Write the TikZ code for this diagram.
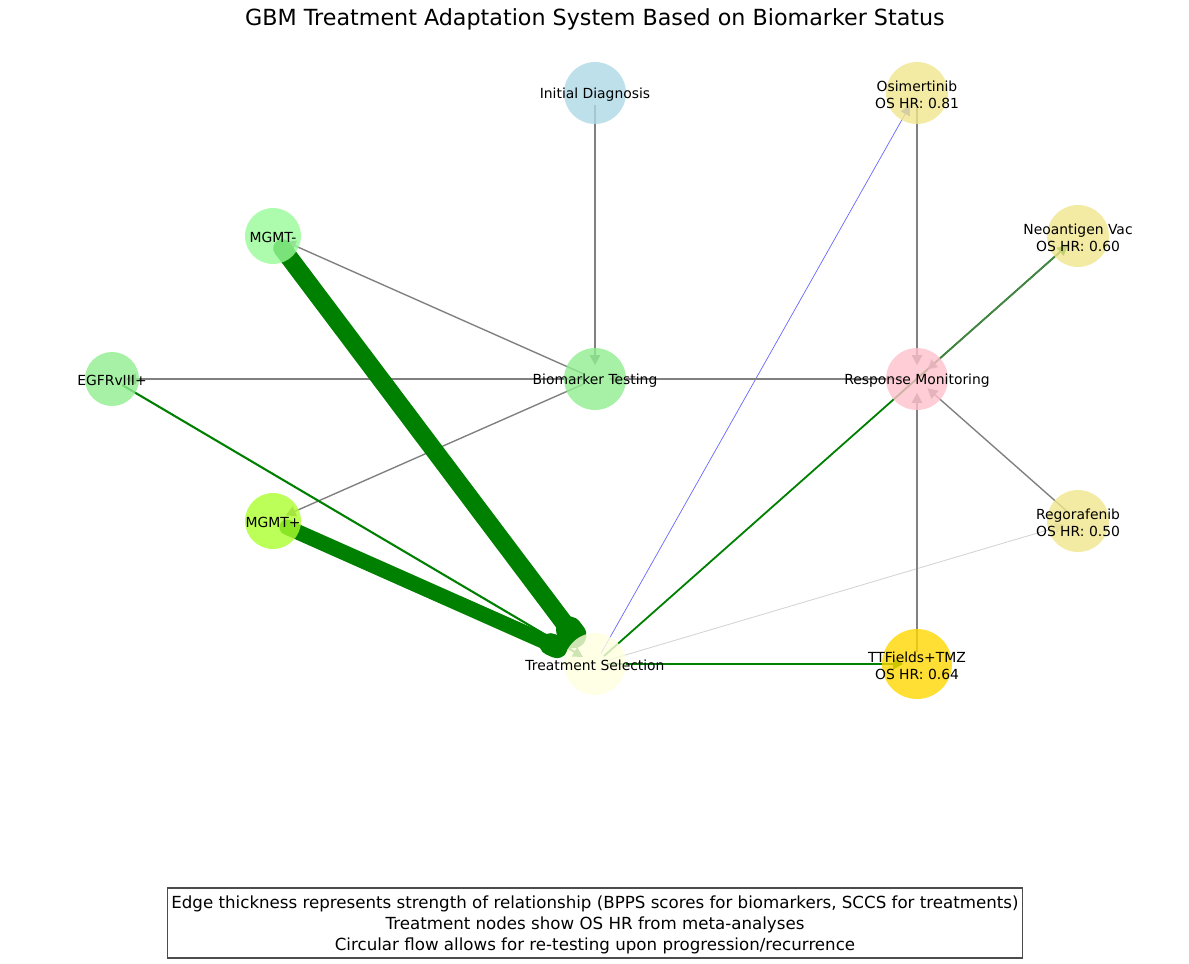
\documentclass[tikz,border=0pt]{standalone}
\usepackage{fontspec}
\setmainfont{DejaVu Sans}
\usetikzlibrary{arrows.meta,calc,backgrounds}
\definecolor{egreen}{HTML}{008000}
\definecolor{egray}{HTML}{808080}
\definecolor{elgray}{HTML}{D3D3D3}
\definecolor{cblue}{HTML}{ADD8E6}
\definecolor{clgreen}{HTML}{90EE90}
\definecolor{cpgreen}{HTML}{98FB98}
\definecolor{cgy}{HTML}{ADFF2F}
\definecolor{clyellow}{HTML}{FFFFE0}
\definecolor{cpink}{HTML}{FFC0CB}
\definecolor{ckhaki}{HTML}{F0E68C}
\definecolor{cgold}{HTML}{FFD700}
\begin{document}
\begin{tikzpicture}[x=0.72pt,y=-0.72pt,
  dot/.style={circle, draw=none, fill opacity=0.8, inner sep=0pt, minimum size=#1},
  lbl/.style={inner sep=0pt, align=center, yshift=-1.2pt, font=\fontsize{10}{12}\selectfont},
  tipA/.style={-{Triangle[length=7.2pt,width=7.5pt]}},
  edgebase/.style={tipA, shorten <=8.6pt, shorten >=10pt},
  grayedge/.style={edgebase, draw=egray, line width=1pt},
  greenedge/.style={edgebase, draw=egreen, line width=1.5pt},
  thickedge/.style={draw=egreen, line cap=round, shorten <=11pt}
]
\useasboundingbox (0,0) rectangle (1189,963);

% nodes
\node[dot=44.6pt, fill=cblue] (id) at (595,93) {};
\node[dot=44.6pt, fill=clgreen] (bt) at (595,379) {};
\node[dot=40.3pt, fill=cpgreen] (mgmtm) at (273,236) {};
\node[dot=38.9pt, fill=clgreen] (egfr) at (112,379) {};
\node[dot=40.3pt, fill=cgy] (mgmtp) at (273,521) {};
\node[dot=44.6pt, fill=clyellow] (ts) at (595,664) {};
\node[dot=44.6pt, fill=cpink] (rm) at (917,379) {};
\node[dot=44.6pt, fill=ckhaki] (osi) at (917,93) {};
\node[dot=44.6pt, fill=ckhaki] (neo) at (1078,236) {};
\node[dot=44.6pt, fill=ckhaki] (reg) at (1078,521) {};
\node[dot=50.4pt, fill=cgold] (tt) at (917,664) {};

% labels
\node[lbl] (id-l) at (id) {Initial Diagnosis};
\node[lbl] (bt-l) at (bt) {Biomarker Testing};
\node[lbl] (mgmtm-l) at (mgmtm) {MGMT-};
\node[lbl] (egfr-l) at (egfr) {EGFRvIII+};
\node[lbl] (mgmtp-l) at (mgmtp) {MGMT+};
\node[lbl] (ts-l) at (ts) {Treatment Selection};
\node[lbl] (rm-l) at (rm) {Response Monitoring};
\node[lbl] (osi-l) at (osi) {Osimertinib\\OS HR: 0.81};
\node[lbl] (neo-l) at (neo) {Neoantigen Vac\\OS HR: 0.60};
\node[lbl] (reg-l) at (reg) {Regorafenib\\OS HR: 0.50};
\node[lbl] (tt-l) at (tt) {TTFields+TMZ\\OS HR: 0.64};

\begin{pgfonlayer}{background}
  \draw[grayedge] (id.center) -- (bt.center);
  \draw[grayedge] (bt.center) -- (mgmtm.center);
  \draw[grayedge] (bt.center) -- (egfr.center);
  \draw[grayedge] (bt.center) -- (mgmtp.center);
  % thick biomarker edges
  \draw[thickedge, line width=13pt, shorten >=31pt] (mgmtm.center) -- (ts.center);
  \draw[egreen, line width=19pt, line cap=round] ($(ts.center)!26pt!(mgmtm.center)$) -- ($(ts.center)!31pt!(mgmtm.center)$);
  \draw[thickedge, line width=11pt, shorten >=35pt] (mgmtp.center) -- (ts.center);
  \draw[egreen, line width=16pt, line cap=round] ($(ts.center)!30pt!(mgmtp.center)$) -- ($(ts.center)!35pt!(mgmtp.center)$);
  \draw[greenedge] (egfr.center) -- (ts.center);
  \draw[edgebase, draw=blue!60, line width=0.5pt] (ts.center) -- (osi.center);
  \draw[greenedge, line width=1.3pt] (ts.center) -- (neo.center);
  \draw[edgebase, draw=elgray, line width=0.6pt] (ts.center) -- (reg.center);
  \draw[greenedge] (ts.center) -- (tt.center);
  \draw[grayedge] (osi.center) -- (rm.center);
  \draw[grayedge, draw opacity=0.6] (neo.center) -- (rm.center);
  \draw[grayedge] (reg.center) -- (rm.center);
  \draw[grayedge] (tt.center) -- (rm.center);
  \draw[grayedge] (rm.center) -- (bt.center);
\end{pgfonlayer}

\node[font=\fontsize{16}{19}\selectfont] (title) at (595,19) {GBM Treatment Adaptation System Based on Biomarker Status};

\node[draw=black!70, line width=0.8pt, fill=white, inner sep=0pt,
      minimum width=616pt, minimum height=50.4pt] (legend) at (595,923) {};
\node[inner sep=0pt, align=center, font=\fontsize{12}{15}\selectfont] (legend-t) at (595,925)
  {Edge thickness represents strength of relationship (BPPS scores for biomarkers, SCCS for treatments)\\
   Treatment nodes show OS HR from meta-analyses\\
   Circular flow allows for re-testing upon progression/recurrence};
\end{tikzpicture}
\end{document}
